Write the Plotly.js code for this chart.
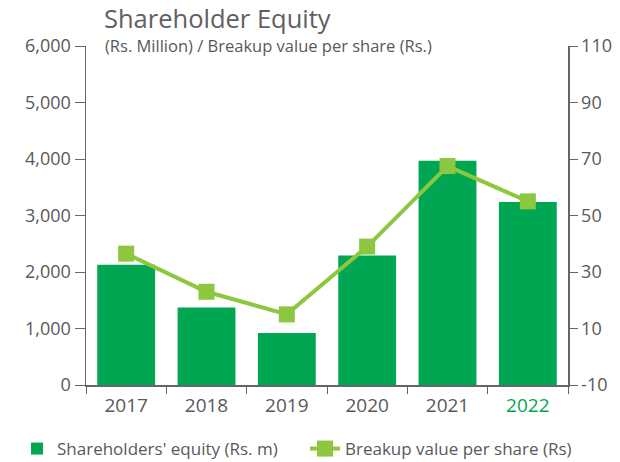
<!DOCTYPE html>
<html>
<head>
<meta charset="utf-8">
<script src="https://cdn.plot.ly/plotly-3.0.1.min.js"></script>
<style>html,body{margin:0;padding:0;background:#fff;}#chart{width:620px;height:462px;}</style>
</head>
<body>
<div id="chart"></div>
<script>
const years = ["2017", "2018", "2019", "2020", "2021", "2022"];
const tickLabels = ["2017", "2018", "2019", "2020", "2021", "<span style=\"color:#00a651\">2022</span>"];
const equity = [2130, 1370, 920, 2290, 3970, 3240];
const breakup = [36.5, 23, 15, 39, 67.5, 55];
const rightTicks = [-10, 10, 30, 50, 70, 90, 110];
const rightTickText = ["-10", "10", "30", "50", "70", "90", "110"];

const font = "'Open Sans', Lato, sans-serif";
const grey = "#58595b";

const traces = [
  {
    type: "bar", x: years, y: equity, name: "Shareholders' equity (Rs. m)",
    marker: {color: "#00a651"}, yaxis: "y", hoverinfo: "x+y", legend: "legend"
  },
  {
    type: "scatter", mode: "lines+markers", x: years, y: breakup,
    name: "Breakup value per share (Rs)", yaxis: "y2", legend: "legend2",
    line: {color: "#8dc63f", width: 4},
    marker: {color: "#8dc63f", symbol: "square", size: 16}
  }
];

const legendFont = {size: 17, color: grey};
const layout = {
  width: 620, height: 462,
  margin: {l: 86, r: 52, t: 46, b: 77, autoexpand: false},
  paper_bgcolor: "#fff", plot_bgcolor: "#fff",
  font: {family: font, color: grey, size: 16},
  bargap: 0.28,
  showlegend: true,
  legend: {orientation: "h", x: 17/620, xanchor: "left", xref: "container",
           y: 13/462, yanchor: "middle", yref: "container",
           font: legendFont, itemwidth: 30},
  legend2: {orientation: "h", x: 305/620, xanchor: "left", xref: "container",
           y: 13/462, yanchor: "middle", yref: "container",
           font: legendFont, itemwidth: 30},
  title: {text: "Shareholder Equity", x: 104/620, xanchor: "left", y: 1 - 19/462, yanchor: "middle",
          font: {size: 25.5, color: "#5f6062", family: font}},
  annotations: [{
    text: "(Rs. Million) / Breakup value per share (Rs.)", xref: "paper", yref: "paper",
    x: 17/482, xanchor: "left", y: 1.0, yanchor: "middle", yshift: 1, showarrow: false,
    font: {size: 16.5, color: grey}
  }],
  xaxis: {
    type: "category", tickmode: "array", tickvals: years, ticktext: tickLabels,
    tickson: "boundaries", ticks: "outside", ticklen: 7, tickcolor: "#666",
    ticklabelstandoff: 3,
    showline: true, linecolor: "#666", linewidth: 1.5, showgrid: false,
    tickfont: {size: 19, color: grey}
  },
  yaxis: {
    range: [0, 6000], dtick: 1000, tickformat: ",", ticks: "outside", ticklen: 10,
    tickcolor: "#666", showline: true, linecolor: "#666", linewidth: 1.5,
    showgrid: false, zeroline: false, tickfont: {size: 18, color: grey}
  },
  yaxis2: {
    overlaying: "y", side: "right", range: [-10, 110], tickmode: "array",
    tickvals: rightTicks, ticktext: rightTickText,
    ticks: "outside", ticklen: 8, tickcolor: "#666", showline: true, linecolor: "#666", linewidth: 1.5,
    showgrid: false, zeroline: false, tickfont: {size: 18, color: grey}
  }
};

Plotly.newPlot("chart", traces, layout, {displayModeBar: false, staticPlot: true});
</script>
</body>
</html>
